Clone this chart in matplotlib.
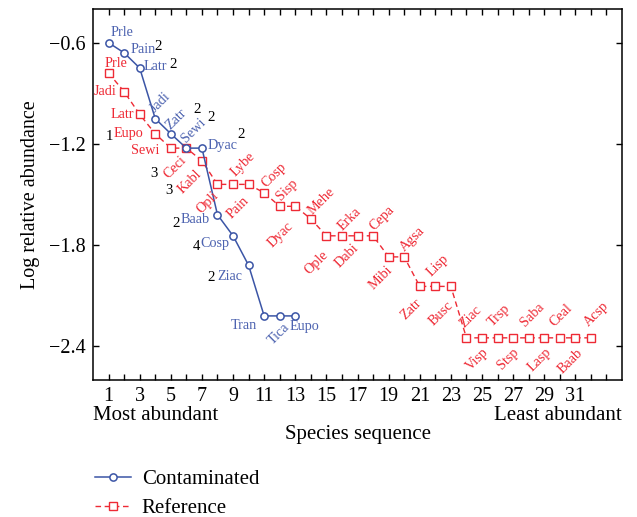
import matplotlib
matplotlib.use('Agg')
import matplotlib.pyplot as plt
from matplotlib.ticker import FixedLocator

plt.rcParams['font.family'] = ['Liberation Serif', 'DejaVu Serif']
plt.rcParams['axes.unicode_minus'] = True

# data (log relative abundance by rank)
cont_names = ['Prle', 'Pain', 'Latr', 'Jadi', 'Zatr', 'Sewi', 'Dyac',
              'Baab', 'Cosp', 'Ziac', 'Tran', 'Tica', 'Eupo']
cont_vals = [-0.60, -0.66, -0.75, -1.05, -1.14, -1.225, -1.225,
             -1.62, -1.745, -1.92, -2.22, -2.22, -2.22]
cont_counts = [None, 2, 2, None, 2, 2, 2, 2, 4, 2, None, None, None]

ref_names = ['Prle', 'Jadi', 'Latr', 'Eupo', 'Sewi', 'Ceci', 'Kabl', 'Opli',
             'Pain', 'Lybe', 'Cosp', 'Sisp', 'Dyac', 'Mehe', 'Ople', 'Erka',
             'Dabi', 'Cepa', 'Mibi', 'Agsa', 'Zatr', 'Lisp', 'Busc', 'Ziac',
             'Visp', 'Trsp', 'Stsp', 'Saba', 'Lasp', 'Ceal', 'Baab', 'Acsp']
ref_vals = [-0.78, -0.89, -1.025, -1.14, -1.225, -1.225, -1.30, -1.44,
            -1.44, -1.44, -1.49, -1.57, -1.57, -1.645, -1.745, -1.745,
            -1.745, -1.745, -1.87, -1.87, -2.045, -2.045, -2.045, -2.35,
            -2.35, -2.35, -2.35, -2.35, -2.35, -2.35, -2.35, -2.35]
ref_counts = [None, None, None, 1, None, 3, 3] + [None] * 25

blue = '#3b55a6'
blue_txt = '#4d63b0'
red = '#ee2a35'

cont_x = list(range(1, len(cont_vals) + 1))
ref_x = list(range(1, len(ref_vals) + 1))

fig = plt.figure(figsize=(6.37, 5.17), dpi=100)
ax = fig.add_axes([0.146, 0.265, 0.8305, 0.7176])

ax.plot(ref_x, ref_vals, color=red, lw=1, dashes=(4, 2.6), marker='s',
        ms=5.5, mfc='white', mec=red, mew=1, label='Reference', zorder=3)
ax.plot(cont_x, cont_vals, color=blue, lw=1.1, marker='o', ms=5.2,
        mfc='white', mec=blue, mew=1.1, label='Contaminated', zorder=4)

# label placement: (dx, dy in pixels, rotation, ha, va)
cont_pos = [(13, 10, 0, 'center', 'center'), (6, 3, 0, 'left', 'center'),
            (4, 2, 0, 'left', 'center'), (2, 3, 45, 'left', 'bottom'),
            (2, 2, 45, 'left', 'bottom'), (2, 3, 45, 'left', 'bottom'),
            (6, 3, 0, 'left', 'center'), (-8, -5, 0, 'right', 'center'),
            (-4, -8, 0, 'right', 'center'), (-6, -11, 0, 'right', 'center'),
            (-7, -10, 0, 'right', 'center'), (3, -5, 45, 'right', 'top'),
            (9, -11, 0, 'center', 'center')]
cont_num_pos = [None, (34, 6), (33, 4), None, (26, 24), (25, 31), (39, 14),
                (-41, -9), (-37, -11), (-37, -12), None, None, None]

above = (3, 3, 45, 'left', 'bottom')
ref_pos = [(7, 10, 0, 'center', 'center'), (-8, 0, 0, 'right', 'center'),
           (-6, 0, 0, 'right', 'center'), (-12, 0, 0, 'right', 'center'),
           (-11, -2, 0, 'right', 'center'), (-7, -6, 45, 'right', 'top'),
           (-7, -7, 45, 'right', 'top'), (-6, -5, 45, 'right', 'top'),
           (9, -10, 45, 'right', 'top'), (-11, 5, 45, 'left', 'bottom'),
           (4, 3, 45, 'left', 'bottom'), (3, 3, 45, 'left', 'bottom'),
           (-9, -13, 45, 'right', 'top'), (4, 2, 45, 'left', 'bottom'),
           (-5, -13, 45, 'right', 'top'), above,
           (-5, -6, 45, 'right', 'top'), above,
           (-3, -7, 45, 'right', 'top'), above,
           (-5, -10, 45, 'right', 'top'), (-2, 7, 45, 'left', 'bottom'),
           (-4, -12, 45, 'right', 'top'), (0, 8, 45, 'left', 'bottom'),
           (0, -8, 45, 'right', 'top'), (-3, 9, 45, 'left', 'bottom'),
           (-1, -8, 45, 'right', 'top'), (-2, 9, 45, 'left', 'bottom'),
           (0, -8, 45, 'right', 'top'), (-3, 9, 45, 'left', 'bottom'),
           (1, -8, 45, 'right', 'top'), (0, 9, 45, 'left', 'bottom')]
ref_num_pos = [None, None, None, (-46, -3), None, (-32, -25), (-33, -30)] + [None] * 25

lab_fs = 10.2
for xs, ys, names, pos, counts, npos, col in [
        (cont_x, cont_vals, cont_names, cont_pos, cont_counts, cont_num_pos, blue_txt),
        (ref_x, ref_vals, ref_names, ref_pos, ref_counts, ref_num_pos, red)]:
    for x, y, n, p, c, q in zip(xs, ys, names, pos, counts, npos):
        dx, dy, rot, ha, va = p
        ax.annotate(n, (x, y), xytext=(dx, dy), textcoords='offset pixels',
                    rotation=rot, rotation_mode='anchor', ha=ha, va=va,
                    color=col, fontsize=lab_fs, zorder=5)
        if c is not None:
            ax.annotate(str(c), (x, y), xytext=q, textcoords='offset pixels',
                        ha='center', va='center', color='black',
                        fontsize=lab_fs + 0.5, zorder=5)

ax.set_xlim(0, 34)
ax.set_ylim(-2.6, -0.4)
ax.xaxis.set_major_locator(FixedLocator(list(range(1, 32, 2))))
ax.xaxis.set_minor_locator(FixedLocator(list(range(1, 34))))
ax.set_yticks([-0.6, -1.2, -1.8, -2.4])
ax.tick_params(axis='both', which='both', direction='in', length=4,
               width=1, top=True, right=True, labelsize=14.5, pad=5)
ax.tick_params(axis='y', pad=5)
for s in ax.spines.values():
    s.set_linewidth(1.1)

ax.set_ylabel('Log relative abundance', fontsize=14.5, labelpad=7)
ax.set_xlabel('Species sequence', fontsize=15, labelpad=14)
ax.text(0, -0.095, 'Most abundant', transform=ax.transAxes, ha='left',
        va='center', fontsize=15)
ax.text(1, -0.095, 'Least abundant', transform=ax.transAxes, ha='right',
        va='center', fontsize=15)

h, l = ax.get_legend_handles_labels()
fig.legend(h[::-1], l[::-1], loc='upper left', bbox_to_anchor=(0.149, 0.092),
           frameon=False, fontsize=15, handlelength=1.75, handletextpad=0.5,
           labelspacing=0.45, borderpad=0, borderaxespad=0)

fig.savefig('out.png', dpi=100)
